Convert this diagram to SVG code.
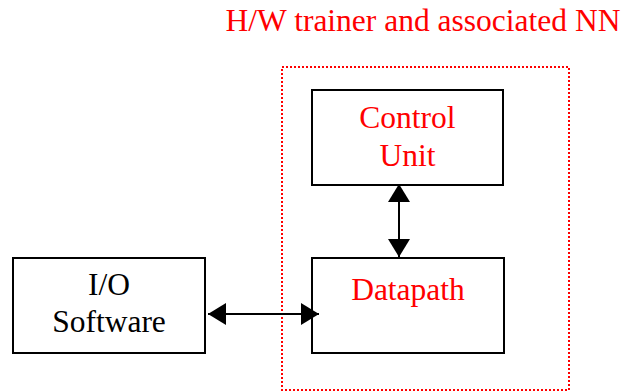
<svg xmlns="http://www.w3.org/2000/svg" width="627" height="392" viewBox="0 0 627 392">
<style>
.box{fill:#fff;stroke:#000;stroke-width:2}
.t{font-family:'Liberation Serif','Times New Roman',serif;font-size:31.5px;text-anchor:middle}
.red{fill:#f00}
.blk{fill:#000}
.ln{stroke:#000;stroke-width:2;fill:none}
</style>
<defs>
<marker id="ah" viewBox="0 0 18 22" refX="18" refY="11" markerWidth="18" markerHeight="22" markerUnits="userSpaceOnUse" orient="auto-start-reverse">
<path d="M0,0 L18,11 L0,22 Z" fill="#000"/>
</marker>
</defs>
<rect width="627" height="392" fill="#fff"/>
<g id="title"><text class="t red" x="423" y="31">H/W trainer and associated NN</text></g>
<g id="hw-boundary"><rect x="282" y="67" width="287" height="323" fill="none" stroke="#f00" stroke-width="2" stroke-dasharray="2,2"/></g>
<g id="control-unit">
<rect class="box" x="312" y="90" width="191" height="95"/>
<text class="t red" x="407.5" y="128">Control</text>
<text class="t red" x="407.5" y="166">Unit</text>
</g>
<g id="datapath">
<rect class="box" x="312" y="258" width="192" height="95"/>
<text class="t red" x="408" y="300">Datapath</text>
</g>
<g id="io-software">
<rect class="box" x="13" y="258" width="192" height="95"/>
<text class="t blk" x="109" y="295">I/O</text>
<text class="t blk" x="109" y="332">Software</text>
</g>
<g id="connectors">
<line class="ln" x1="399" y1="184" x2="399" y2="257" marker-start="url(#ah)" marker-end="url(#ah)"/>
<line class="ln" x1="208" y1="314" x2="319" y2="314" marker-start="url(#ah)" marker-end="url(#ah)"/>
</g>
</svg>
